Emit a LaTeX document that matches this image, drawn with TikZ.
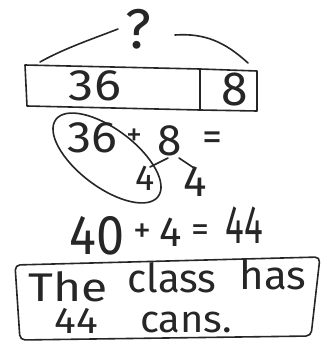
\documentclass[tikz,border=0pt]{standalone}
\usepackage{fontspec}
\IfFontExistsTF{FiraSans-Light.otf}{\setmainfont{FiraSans-Light.otf}}{\setmainfont{Fira Sans}}
\begin{document}
\begin{tikzpicture}[x=1pt,y=-1pt,
  ink/.style={line width=1.6pt,line cap=round,line join=round,black!85},
  hw/.style={inner sep=0pt,text=black!85},
  sz/.style={font=\fontsize{#1}{#1}\selectfont}]
\useasboundingbox (0,0) rectangle (324,343);
% question mark and bracket
\node[hw,sz=56] (q) at (138,29) {?};
\coordinate (bl1) at (40,62);
\coordinate (bl2) at (118,29);
\coordinate (br1) at (175,35);
\coordinate (br2) at (248,63);
\draw[ink] (bl1) .. controls (65,48) and (95,38) .. (bl2);
\draw[ink] (br1) .. controls (205,33) and (225,42) .. (br2);
% tape diagram
\coordinate (t1) at (25,65); \coordinate (t2) at (200,69); \coordinate (t3) at (257,71);
\coordinate (b3) at (257,111); \coordinate (b2) at (200,110); \coordinate (b1) at (27,106);
\draw[ink] (t1) -- (t2) -- (t3) -- (b3) -- (b2) -- (b1) -- cycle;
\draw[ink] (t2) -- (b2);
\node[hw,sz=44,xscale=1.15] (n36) at (95,86) {36};
\node[hw,sz=48] (n8) at (235,89) {8};
% second line
\node[hw,sz=44,xscale=1.1] (a36) at (92,138) {36};
\node[hw,sz=32] (aplus) at (134,137) {+};
\node[hw,sz=44] (a8) at (170,141) {8};
\node[hw,sz=40] (aeq) at (212,141) {=};
\node[hw,sz=36] (f1) at (145,178) {4};
\node[hw,sz=44] (f2) at (195,182) {4};
\draw[ink,rotate around={-37:(107,158)}] (107,158) ellipse [x radius=64, y radius=29];
\coordinate (s1) at (168,158); \coordinate (e1) at (150,167);
\coordinate (s2) at (179,158); \coordinate (e2) at (194,168);
\draw[ink] (s1) -- (e1);
\draw[ink] (s2) -- (e2);
% third line
\node[hw,sz=56,xscale=0.9] (b40) at (97,236) {40};
\node[hw,sz=36] (bplus) at (142,233) {+};
\node[hw,sz=42] (b4) at (171,232) {4};
\node[hw,sz=36] (beq) at (200,233) {=};
\node[hw,sz=54,xscale=0.65] (b44) at (244,225) {44};
% answer box
\draw[ink,rounded corners=5pt] (15,265) -- (320,257) -- (311,336) -- (20,340) -- cycle;
\node[hw,sz=40,anchor=base,xscale=1.2] (w1) at (68,301) {The};
\node[hw,sz=40,anchor=base] (w2) at (172,292) {class};
\node[hw,sz=40,anchor=base,xscale=1.05] (w3) at (273,289) {has};
\node[hw,sz=37,anchor=base,xscale=1.1] (w4) at (76,333) {44};
\node[hw,sz=38,anchor=base,xscale=1.05] (w5) at (186,332) {cans.};
\end{tikzpicture}
\end{document}
